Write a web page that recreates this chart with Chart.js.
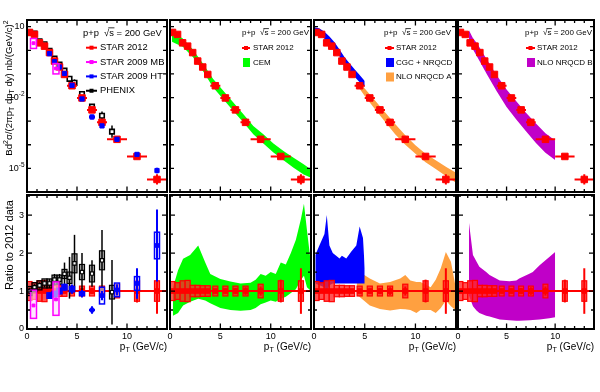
<!DOCTYPE html>
<html>
<head>
<meta charset="utf-8">
<script src="https://cdn.jsdelivr.net/npm/chart.js@4.4.1/dist/chart.umd.min.js"></script>
<style>
  html, body { margin: 0; padding: 0; background: #fff; }
  #page { position: relative; width: 600px; height: 392px; overflow: hidden; }
  #page canvas { position: absolute; left: 0; top: 0; }
</style>
</head>
<body>
<div id="page">
  <canvas id="top1" width="600" height="392"></canvas>
  <canvas id="top2" width="600" height="392"></canvas>
  <canvas id="top3" width="600" height="392"></canvas>
  <canvas id="top4" width="600" height="392"></canvas>
  <canvas id="rat1" width="600" height="392"></canvas>
  <canvas id="rat2" width="600" height="392"></canvas>
  <canvas id="rat3" width="600" height="392"></canvas>
  <canvas id="rat4" width="600" height="392"></canvas>
</div>
<script>
const FONT = "'Liberation Sans', Arial, Helvetica, sans-serif";

// STAR 2012 (red)
const ptStar = [0.25, 0.75, 1.25, 1.75, 2.25, 2.75, 3.25, 3.75, 4.5, 5.5, 6.5, 7.5, 9, 11, 13];
const binHalfStar = [0.25, 0.25, 0.25, 0.25, 0.25, 0.25, 0.25, 0.25, 0.5, 0.5, 0.5, 0.5, 1, 1, 1];
const yieldStar = [5.7, 4.7, 2.07, 1.5, 0.8, 0.35, 0.196, 0.095, 0.0316, 0.0096, 0.0030, 8.9e-4, 1.7e-4, 3.2e-5, 3.4e-6];
const errFacStar = [1.05, 1.05, 1.05, 1.05, 1.05, 1.05, 1.05, 1.05, 1.05, 1.06, 1.07, 1.08, 1.12, 1.25, 1.65];
const ratioStar = [1, 1, 1, 1, 1, 1, 1, 1, 1, 1, 1, 1, 1, 1, 1];
const ratioSysStar = [0.25, 0.22, 0.27, 0.28, 0.15, 0.15, 0.14, 0.14, 0.13, 0.13, 0.13, 0.13, 0.18, 0.27, 0.27];
const ratioStatStar = [0.06, 0.05, 0.05, 0.05, 0.05, 0.05, 0.05, 0.06, 0.06, 0.07, 0.08, 0.1, 0.12, 0.3, 0.6];

// PHENIX (black)
const ptPhenix = [0.25, 0.75, 1.25, 1.75, 2.25, 2.75, 3.25, 3.75, 4.25, 4.75, 5.5, 6.5, 7.5, 8.5];
const yieldPhenix = [5.7, 5.1, 2.4, 1.8, 0.96, 0.45, 0.25, 0.138, 0.062, 0.042, 0.014, 0.0041, 0.0017, 3.6e-4];
const errFacPhenix = [1.05, 1.05, 1.05, 1.05, 1.05, 1.06, 1.06, 1.1, 1.2, 1.4, 1.25, 1.3, 1.5, 1.8];
const ratioPhenix = [1.0, 1.1, 1.15, 1.2, 1.2, 1.3, 1.3, 1.45, 1.35, 1.73, 1.5, 1.46, 1.81, 0.97];
const ratioSysPhenix = [0.12, 0.12, 0.12, 0.12, 0.12, 0.12, 0.12, 0.12, 0.15, 0.25, 0.2, 0.22, 0.25, 0.18];
const ratioStatPhenix = [0.08, 0.08, 0.08, 0.1, 0.12, 0.15, 0.15, 0.3, 0.55, 0.75, 0.5, 0.35, 0.8, 0.85];

// STAR 2009 HT (blue)
const ptHT = [2.25, 2.75, 3.25, 3.75, 4.5, 5.5, 6.5, 7.5, 9, 11, 13];
const yieldHT = [0.72, 0.33, 0.196, 0.105, 0.033, 0.0087, 0.0015, 6.3e-4, 1.7e-4, 3.9e-5, 8.1e-6];
const errFacHT = [1.05, 1.05, 1.05, 1.06, 1.08, 1.1, 1.25, 1.15, 1.15, 1.15, 1.3];
const crossHT = [0, 0, 0, 0, 0, 0, 0.3, 0, 0, 0, 0];
const ratioHT = [0.88, 0.92, 1.0, 1.1, 1.05, 0.93, 0.5, 0.88, 1.03, 1.2, 2.2];
const ratioSysHT = [0.07, 0.07, 0.07, 0.07, 0.07, 0.05, 0, 0.22, 0.18, 0.18, 0.35];
const ratioStatHT = [0.08, 0.08, 0.1, 0.1, 0.12, 0.1, 0.1, 0.12, 0.15, 0.4, 0.95];

// STAR 2009 MB (magenta)
const ptMB = [0.65, 2.9];
const yieldMB = [2.0, 0.17];
const sysLoMB = [1.2, 0.1];
const sysHiMB = [3.16, 0.275];
const ratioMB = [0.62, 0.78];
const ratioSysLoMB = [0.28, 0.36];
const ratioSysHiMB = [1.02, 1.24];

// CEM band
const cemX = [0.2, 0.5, 1.27, 2.27, 3.27, 4.27, 5.27, 6.27, 7.27, 8.27, 9.27, 10.27, 11.27, 12.27, 13.27, 14];
const cemHi = [6.53, 5.25, 3.16, 1.07, 0.275, 0.0631, 0.02, 0.00631, 0.002, 6.31e-4, 2.82e-4, 1.12e-4, 5.5e-5, 2.82e-5, 1.48e-5, 8.9e-6];
const cemLo = [2.29, 2.0, 1.41, 0.525, 0.132, 0.0275, 0.0087, 0.00275, 8.9e-4, 2.82e-4, 1.12e-4, 4.68e-5, 2.19e-5, 1.07e-5, 5.5e-6, 3.98e-6];
const cemRX = [0.3, 0.8, 1.3, 2.0, 2.8, 3.5, 4.0, 5.0, 6.0, 7.0, 8.0, 8.5, 9.0, 9.5, 10.0, 10.5, 11.0, 11.5, 12.0, 12.5, 13.0, 13.3, 13.6, 14.0];
const cemRHi = [1.1, 1.55, 1.85, 1.95, 2.2, 1.75, 1.45, 1.32, 1.25, 1.2, 1.22, 1.3, 1.45, 1.4, 1.5, 1.45, 1.75, 1.7, 2.0, 2.35, 2.9, 3.3, 2.6, 1.7];
const cemRLo = [0.35, 0.42, 0.62, 0.72, 0.8, 0.75, 0.68, 0.55, 0.5, 0.48, 0.5, 0.55, 0.65, 0.7, 0.75, 0.72, 0.8, 0.85, 0.95, 1.05, 1.3, 1.4, 1.1, 1.0];

// CGC + NRQCD band
const cgcX = [0, 0.5, 1, 1.5, 2, 2.5, 3, 3.5, 4, 4.5, 5];
const cgcHi = [9.55, 8.51, 6.31, 3.98, 2.24, 1.12, 0.525, 0.282, 0.158, 0.0891, 0.0501];
const cgcLo = [5.62, 4.79, 3.16, 2.0, 1.12, 0.562, 0.251, 0.132, 0.0759, 0.0447, 0.0282];
const cgcRX = [0.13, 0.53, 1.03, 1.26, 1.52, 1.85, 2.52, 2.75, 3.18, 3.68, 4.17, 4.5, 4.83, 5.0];
const cgcRHi = [1.95, 2.2, 2.5, 3.0, 2.2, 2.0, 1.86, 1.93, 1.86, 2.04, 2.2, 2.7, 2.4, 1.6];
const cgcRLo = [1.2, 1.15, 1.1, 1.0, 1.15, 1.2, 1.2, 1.2, 1.2, 1.2, 1.2, 1.2, 1.2, 1.2];

// NLO NRQCD A band
const nloAX = [4.5, 5, 6, 7, 8, 9, 10, 11, 12, 13, 14];
const nloAHi = [0.0447, 0.024, 0.00759, 0.0024, 7.59e-4, 2.51e-4, 9.55e-5, 4.17e-5, 2.19e-5, 1.17e-5, 6.46e-6];
const nloALo = [0.0234, 0.0115, 0.00331, 9.55e-4, 2.82e-4, 1.0e-4, 4.17e-5, 1.82e-5, 9.33e-6, 4.79e-6, 2.45e-6];
const nloARX = [4.2, 4.5, 5.5, 6.5, 7.5, 8.5, 9.0, 9.5, 10.1, 10.5, 11.5, 12.0, 12.5, 13.0, 13.5, 14.0];
const nloARHi = [1.55, 1.5, 1.33, 1.2, 1.24, 1.33, 1.42, 1.28, 1.24, 1.24, 1.1, 1.3, 1.6, 2.03, 1.77, 1.06];
const nloARLo = [0.9, 0.84, 0.62, 0.53, 0.49, 0.53, 0.52, 0.5, 0.42, 0.5, 0.5, 0.42, 0.55, 0.75, 0.6, 0.49];

// NLO NRQCD B band
const nloBX = [1.13, 1.5, 2, 3, 4, 5, 6, 7, 8, 9, 10];
const nloBHi = [7.08, 3.47, 1.86, 0.389, 0.0851, 0.0219, 0.00692, 0.00229, 8.13e-4, 3.09e-4, 1.51e-4];
const nloBLo = [2.19, 1.15, 0.513, 0.0912, 0.0178, 0.00398, 0.00117, 3.72e-4, 1.23e-4, 4.57e-5, 2.29e-5];
const nloBRX = [1.13, 1.54, 1.9, 2.2, 2.9, 3.25, 4.3, 5.3, 6.0, 6.3, 7.4, 7.7, 8.4, 9.4, 10];
const nloBRHi = [2.8, 1.95, 1.78, 1.64, 1.5, 1.42, 1.28, 1.26, 1.28, 1.33, 1.46, 1.5, 1.68, 1.9, 2.03];
const nloBRLo = [0.88, 0.6, 0.49, 0.42, 0.35, 0.33, 0.25, 0.23, 0.22, 0.22, 0.23, 0.24, 0.25, 0.28, 0.31];

// unity line of the ratio panels
const unityX = [0, 14];
const unityY = [1, 1];

// axis ticks and labels
const xTickVals = [1, 2, 3, 4, 5, 6, 7, 8, 9, 10, 11, 12, 13];
const xMajorVals = [5, 10];
const xLabelVals = [0, 5, 10];
const logTickVals = [1e-5, 1e-4, 1e-3, 1e-2, 1e-1, 1, 10];
const logLabelVals = [10, 1e-2, 1e-5];
const logLabelExp = ['', '-2', '-5'];
const ratioTickVals = [0.5, 1, 1.5, 2, 2.5, 3, 3.5];
const ratioLabelVals = [0, 1, 2, 3];

const RED = '#ff0000', MAG = '#ff00ff', BLUE = '#0000ff';
const GREEN = '#00ff00', ORANGE = '#ffa040', PURPLE = '#c000c8', CGC = '#0000ff';

const pts = (xs, ys) => xs.map((v, i) => ({ x: v, y: ys[i] }));

function band(xs, hi, lo, color) {
  return [
    { type: 'line', data: pts(xs, hi), fill: '+1', backgroundColor: color, borderColor: 'rgba(0,0,0,0)', borderWidth: 1, pointRadius: 0, tension: 0, order: 9 },
    { type: 'line', data: pts(xs, lo), fill: false, borderColor: 'rgba(0,0,0,0)', borderWidth: 1, pointRadius: 0, tension: 0, order: 9 }
  ];
}

function markers(xs, ys, m, eb, order) {
  return {
    type: 'line', data: pts(xs, ys), showLine: false, fill: false,
    pointStyle: 'rect', pointRadius: m.r, backgroundColor: m.fill, borderColor: m.stroke,
    borderWidth: m.bw, eb: eb, order: order
  };
}

function unity() {
  return { type: 'line', data: pts(unityX, unityY), borderColor: RED, borderWidth: 2, pointRadius: 0, fill: false, order: 6 };
}

// rich text: parts = [[text, kind]] kind 0 normal, 1 sup, -1 sub, 2 overline
function drawRich(ctx, parts, x, y, size, align) {
  const f = k => ((k === 1 || k === -1) ? size * 0.72 : size) + 'px ' + FONT;
  let w = 0;
  parts.forEach(([t, k]) => { ctx.font = f(k); w += ctx.measureText(t).width; });
  let cx = align === 'right' ? x - w : align === 'center' ? x - w / 2 : x;
  ctx.textAlign = 'left';
  ctx.textBaseline = 'middle';
  parts.forEach(([t, k]) => {
    ctx.font = f(k);
    const dy = k === 1 ? -size * 0.4 : k === -1 ? size * 0.32 : 0;
    ctx.fillText(t, cx, y + dy);
    const tw = ctx.measureText(t).width;
    if (k === 2) {
      ctx.save();
      ctx.lineWidth = 0.8;
      ctx.beginPath();
      ctx.moveTo(cx - 1, y - size * 0.55);
      ctx.lineTo(cx + tw + 0.5, y - size * 0.55);
      ctx.stroke();
      ctx.restore();
    }
    cx += tw;
  });
}

const headerParts = [['p+p  \u221A', 0], ['s', 2], [' = 200 GeV', 0]];
const yTitleTop = [['Bd', 0], ['2', 1], ['\u03C3/(2\u03C0p', 0], ['T', -1], [' dp', 0], ['T', -1], [' dy) nb/(GeV/c)', 0], ['2', 1]];
const yTitleRatio = [['Ratio to 2012 data', 0]];
const xTitle = [['p', 0], ['T', -1], [' (GeV/c)', 0]];

const errorBars = {
  id: 'errorBars',
  beforeDatasetDraw(chart, args) {
    const ds = chart.data.datasets[args.index];
    const e = ds.eb;
    if (!e) return;
    const { ctx, chartArea: a } = chart;
    const xs = chart.scales.x, ys = chart.scales.y;
    ctx.save();
    ctx.beginPath();
    ctx.rect(a.left, a.top, a.right - a.left, a.bottom - a.top);
    ctx.clip();
    ds.data.forEach((p, i) => {
      const px = xs.getPixelForValue(p.x);
      const py = ys.getPixelForValue(p.y);
      let lo = null, hi = null;
      if (e.sys) { lo = p.y - e.sys[i]; hi = p.y + e.sys[i]; }
      if (e.boxLo) { lo = e.boxLo[i]; hi = e.boxHi[i]; }
      if (lo !== null && hi > lo) {
        const x0 = xs.getPixelForValue(p.x - e.boxW), x1 = xs.getPixelForValue(p.x + e.boxW);
        const y0 = ys.getPixelForValue(hi), y1 = ys.getPixelForValue(lo);
        ctx.fillStyle = e.boxFill;
        ctx.fillRect(x0, y0, x1 - x0, y1 - y0);
        ctx.strokeStyle = e.boxStroke;
        ctx.lineWidth = e.boxLw;
        ctx.strokeRect(x0, y0, x1 - x0, y1 - y0);
      }
      ctx.strokeStyle = e.color;
      ctx.lineWidth = e.lw;
      ctx.beginPath();
      if (e.xw && e.xw[i]) {
        ctx.moveTo(xs.getPixelForValue(p.x - e.xw[i]), py);
        ctx.lineTo(xs.getPixelForValue(p.x + e.xw[i]), py);
      }
      let elo = null, ehi = null;
      if (e.stat) { elo = p.y - e.stat[i]; ehi = p.y + e.stat[i]; }
      if (e.fac) { elo = p.y / e.fac[i]; ehi = p.y * e.fac[i]; }
      if (elo !== null) {
        ctx.moveTo(px, ys.getPixelForValue(elo));
        ctx.lineTo(px, ys.getPixelForValue(ehi));
      }
      ctx.stroke();
    });
    ctx.restore();
  }
};

const rootAxes = {
  id: 'rootAxes',
  afterDatasetsDraw(chart, args, o) {
    const { ctx, chartArea: a } = chart;
    const xs = chart.scales.x, ys = chart.scales.y;
    ctx.save();
    ctx.strokeStyle = '#000';
    ctx.fillStyle = '#000';
    ctx.lineWidth = 1.3;
    ctx.beginPath();
    xTickVals.forEach(v => {
      const px = xs.getPixelForValue(v);
      const len = xMajorVals.includes(v) ? 5.5 : 3;
      ctx.moveTo(px, a.bottom); ctx.lineTo(px, a.bottom - len);
      ctx.moveTo(px, a.top); ctx.lineTo(px, a.top + len);
    });
    (o.log ? logTickVals : ratioTickVals).forEach(v => {
      const py = ys.getPixelForValue(v);
      const len = o.log ? 4 : (Number.isInteger(v) ? 5 : 3);
      ctx.moveTo(a.left, py); ctx.lineTo(a.left + len, py);
      ctx.moveTo(a.right, py); ctx.lineTo(a.right - len, py);
    });
    ctx.stroke();
    ctx.lineWidth = 2;
    ctx.strokeRect(a.left, a.top, a.right - a.left, a.bottom - a.top);

    if (o.yLabels) {
      if (o.log) {
        logLabelVals.forEach((v, i) => {
          const parts = logLabelExp[i] ? [['10', 0], [logLabelExp[i], 1]] : [['10', 0]];
          drawRich(ctx, parts, a.left - 2.5, ys.getPixelForValue(v), 9, 'right');
        });
      } else {
        ratioLabelVals.forEach(v => {
          drawRich(ctx, [[String(v), 0]], a.left - 3, ys.getPixelForValue(v), 9, 'right');
        });
      }
    }
    if (o.xLabels) {
      xLabelVals.forEach(v => {
        drawRich(ctx, [[String(v), 0]], xs.getPixelForValue(v), a.bottom + 8, 9, 'center');
      });
      drawRich(ctx, xTitle, a.right, a.bottom + 18, 10, 'right');
    }
    if (o.yTitle) {
      ctx.save();
      ctx.translate(o.yTitle.x, o.yTitle.y);
      ctx.rotate(-Math.PI / 2);
      drawRich(ctx, o.yTitle.parts, 0, 0, o.yTitle.size, 'center');
      ctx.restore();
    }
    if (o.legend) {
      const L = o.legend;
      ctx.fillStyle = '#000';
      ctx.strokeStyle = '#000';
      drawRich(ctx, headerParts, L.hx, L.hy, L.size, 'left');
      L.items.forEach((it, i) => {
        const y = L.y0 + i * L.dy;
        if (it.kind === 'pt') {
          ctx.strokeStyle = it.color;
          ctx.lineWidth = 2;
          ctx.beginPath();
          ctx.moveTo(L.x0, y); ctx.lineTo(L.x1, y);
          ctx.stroke();
          ctx.fillStyle = it.color;
          const c = (L.x0 + L.x1) / 2;
          ctx.fillRect(c - 2, y - 2, 4, 4);
        } else {
          ctx.fillStyle = it.color;
          ctx.fillRect(L.x0 + 1, y - 4.5, L.x1 - L.x0 - 1, 9);
        }
        ctx.fillStyle = '#000';
        drawRich(ctx, [[it.text, 0]], L.tx, y, L.size, 'left');
      });
    }
    ctx.restore();
  }
};

function panel(id, frame, log, datasets, deco) {
  deco.log = log;
  return new Chart(document.getElementById(id), {
    type: 'line',
    data: { datasets: datasets },
    options: {
      responsive: false,
      animation: false,
      events: [],
      layout: { padding: { left: frame[0], top: frame[1], right: 600 - frame[2], bottom: 392 - frame[3] } },
      scales: {
        x: { type: 'linear', min: 0, max: 14, display: false },
        y: log ? { type: 'logarithmic', min: 1e-6, max: 19.2, display: false }
               : { type: 'linear', min: 0, max: 3.53, display: false }
      },
      plugins: { legend: { display: false }, tooltip: { enabled: false }, rootAxes: deco }
    },
    plugins: [errorBars, rootAxes]
  });
}

// marker looks
const mRedTop = { r: 4.6, fill: RED, stroke: RED, bw: 1 };
const mRedRat = { r: 3.2, fill: RED, stroke: RED, bw: 1 };
const mBlack = { r: 3.2, fill: '#ffffff', stroke: '#000', bw: 1.6 };
const mBlue = { r: 3, fill: BLUE, stroke: BLUE, bw: 1 };
const mMag = { r: 2, fill: MAG, stroke: MAG, bw: 1 };

const ebRedTop = { xw: binHalfStar, fac: errFacStar, color: RED, lw: 2 };
const ebRedRat = { sys: ratioSysStar, boxW: 0.25, boxFill: 'rgba(255,40,40,0.8)', boxStroke: RED, boxLw: 1.2, stat: ratioStatStar, color: RED, lw: 2 };

const starTop = () => markers(ptStar, yieldStar, mRedTop, ebRedTop, 2);
const starRat = () => markers(ptStar, ratioStar, mRedRat, ebRedRat, 4);

const topFrames = [[27, 20, 167, 192], [170, 20, 311, 192], [314, 20, 456, 192], [458, 20, 594, 192]];
const ratFrames = [[27, 195, 167, 329], [170, 195, 311, 329], [314, 195, 456, 329], [458, 195, 594, 329]];

// panel 1: data comparison
panel('top1', topFrames[0], true, [
  starTop(),
  markers(ptPhenix, yieldPhenix, mBlack, { fac: errFacPhenix, color: '#000', lw: 1.5 }, 3),
  markers(ptHT, yieldHT, mBlue, { xw: crossHT, fac: errFacHT, color: BLUE, lw: 2 }, 1),
  markers(ptMB, yieldMB, mMag, { boxLo: sysLoMB, boxHi: sysHiMB, boxW: 0.3, boxFill: 'rgba(255,255,255,0.3)', boxStroke: MAG, boxLw: 1.5, color: MAG, lw: 1.5 }, 0)
], {
  yLabels: true,
  yTitle: { parts: yTitleTop, x: 9.5, y: 88, size: 9.6 },
  legend: {
    hx: 83, hy: 33, size: 9.4, x0: 86, x1: 97, tx: 100, y0: 47.7, dy: 14.35,
    items: [
      { kind: 'pt', color: RED, text: 'STAR 2012' },
      { kind: 'pt', color: MAG, text: 'STAR 2009 MB' },
      { kind: 'pt', color: BLUE, text: 'STAR 2009 HT' },
      { kind: 'pt', color: '#000', text: 'PHENIX' }
    ]
  }
});

panel('rat1', ratFrames[0], false, [
  unity(),
  starRat(),
  markers(ptPhenix, ratioPhenix, { r: 2.4, fill: '#fff', stroke: '#000', bw: 1.2 },
    { sys: ratioSysPhenix, boxW: 0.25, boxFill: 'rgba(0,0,0,0.35)', boxStroke: '#000', boxLw: 1.2, stat: ratioStatPhenix, color: '#000', lw: 1.5 }, 3),
  markers(ptHT, ratioHT, { r: 2.6, fill: BLUE, stroke: BLUE, bw: 1 },
    { sys: ratioSysHT, boxW: 0.25, boxFill: 'rgba(255,255,255,0.55)', boxStroke: BLUE, boxLw: 1.5, xw: crossHT, stat: ratioStatHT, color: BLUE, lw: 2 }, 2),
  markers(ptMB, ratioMB, mMag,
    { boxLo: ratioSysLoMB, boxHi: ratioSysHiMB, boxW: 0.3, boxFill: 'rgba(255,215,255,0.6)', boxStroke: MAG, boxLw: 1.5, color: MAG, lw: 1.5 }, 1)
], {
  yLabels: true, xLabels: true,
  yTitle: { parts: yTitleRatio, x: 9.5, y: 245, size: 11 }
});

// panel 2: CEM
panel('top2', topFrames[1], true, [starTop(), ...band(cemX, cemHi, cemLo, GREEN)], {
  legend: {
    hx: 242, hy: 33, size: 8, x0: 242, x1: 250, tx: 253, y0: 48, dy: 14.5,
    items: [{ kind: 'pt', color: RED, text: 'STAR 2012' }, { kind: 'box', color: GREEN, text: 'CEM' }]
  }
});
panel('rat2', ratFrames[1], false, [unity(), starRat(), ...band(cemRX, cemRHi, cemRLo, GREEN)], { xLabels: true });

// panel 3: CGC + NRQCD and NLO NRQCD A
panel('top3', topFrames[2], true, [starTop(), ...band(cgcX, cgcHi, cgcLo, CGC), ...band(nloAX, nloAHi, nloALo, ORANGE)], {
  legend: {
    hx: 384, hy: 33, size: 8, x0: 385, x1: 394, tx: 396, y0: 48, dy: 14.5,
    items: [
      { kind: 'pt', color: RED, text: 'STAR 2012' },
      { kind: 'box', color: CGC, text: 'CGC + NRQCD' },
      { kind: 'box', color: ORANGE, text: 'NLO NRQCD A' }
    ]
  }
});
panel('rat3', ratFrames[2], false, [unity(), starRat(), ...band(cgcRX, cgcRHi, cgcRLo, CGC), ...band(nloARX, nloARHi, nloARLo, ORANGE)], { xLabels: true });

// panel 4: NLO NRQCD B
panel('top4', topFrames[3], true, [starTop(), ...band(nloBX, nloBHi, nloBLo, PURPLE)], {
  legend: {
    hx: 525, hy: 33, size: 8, x0: 526, x1: 535, tx: 537, y0: 48, dy: 14.5,
    items: [{ kind: 'pt', color: RED, text: 'STAR 2012' }, { kind: 'box', color: PURPLE, text: 'NLO NRQCD B' }]
  }
});
panel('rat4', ratFrames[3], false, [unity(), starRat(), ...band(nloBRX, nloBRHi, nloBRLo, PURPLE)], { xLabels: true });
</script>
</body>
</html>
